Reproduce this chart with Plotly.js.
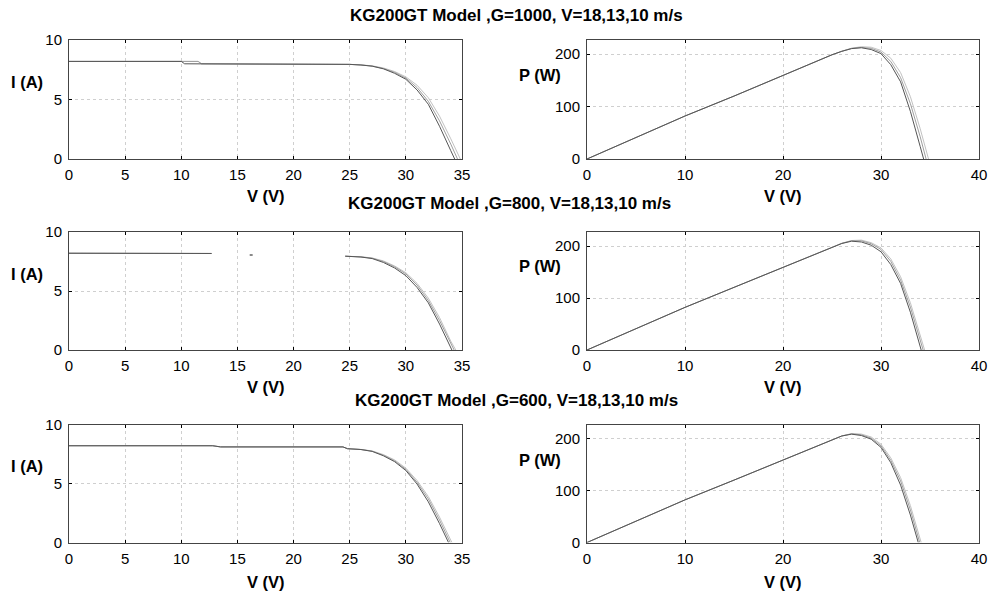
<!DOCTYPE html>
<html>
<head>
<meta charset="utf-8">
<script src="https://cdn.plot.ly/plotly-3.0.1.min.js"></script>
<style>html,body{margin:0;padding:0;background:#fff;}#chart{width:993px;height:595px;}</style>
</head>
<body>
<div id="chart"></div>
<script>
// ---------- Titles ----------
const rowTitles = [
  "KG200GT Model ,G=1000, V=18,13,10 m/s",
  "KG200GT Model ,G=800, V=18,13,10 m/s",
  "KG200GT Model ,G=600, V=18,13,10 m/s"
];
const windLabels = ["V=18 m/s", "V=13 m/s", "V=10 m/s"];

// ---------- Row 1 : G=1000, I-V ----------
const vI1a = [0, 5, 10, 10.3, 15, 20, 25, 26, 27, 28, 29, 30, 31, 32, 33, 34, 34.35];
const iI1a = [8.2, 8.2, 8.2, 8.0, 8.0, 8.0, 7.95, 7.9, 7.8, 7.58, 7.2, 6.7, 5.8, 4.6, 2.75, 0.7, 0];
const vI1b = [0, 5, 10, 11.5, 11.8, 15, 20, 25, 26, 27, 28, 29, 30, 31, 32, 33, 34, 34.6];
const iI1b = [8.2, 8.2, 8.2, 8.2, 8.0, 8.0, 8.0, 7.95, 7.9, 7.81, 7.6, 7.28, 6.8, 6.0, 4.85, 3.2, 1.25, 0];
const vI1c = [0, 5, 10, 11.5, 11.8, 15, 20, 25, 26, 27, 28, 29, 30, 31, 32, 33, 34, 34.85];
const iI1c = [8.2, 8.2, 8.2, 8.2, 8.0, 8.0, 8.0, 7.95, 7.91, 7.83, 7.65, 7.35, 6.9, 6.2, 5.15, 3.6, 1.7, 0];
// ---------- Row 1 : G=1000, P-V ----------
const vP1a = [0, 5, 10, 15, 20, 25, 26, 27, 28, 29, 30, 31, 32, 33, 34, 34.35];
const pP1a = [0, 41, 82, 120, 160, 198.8, 205.4, 210.6, 212.2, 208.8, 201, 179.8, 147.2, 90.8, 23.8, 0];
const vP1b = [0, 5, 10, 15, 20, 25, 26, 27, 28, 29, 30, 31, 32, 33, 34, 34.6];
const pP1b = [0, 41, 82, 120, 160, 198.8, 205.4, 210.9, 212.8, 211.1, 204, 186, 155.2, 105.6, 42.5, 0];
const vP1c = [0, 5, 10, 15, 20, 25, 26, 27, 28, 29, 30, 31, 32, 33, 34, 34.85];
const pP1c = [0, 41, 82, 120, 160, 198.8, 205.7, 211.4, 214.2, 213.2, 207, 192.2, 164.8, 118.8, 57.8, 0];

// ---------- Row 2 : G=800, I-V (gaps as in source) ----------
const vI2a = [0, 5, 10, 12.7, 12.8, 16.1, 16.35, 16.4, 24.6, 25, 26, 27, 28, 29, 30, 31, 32, 33, 34, 34.1];
const iI2a = [8.2, 8.2, 8.2, 8.18, null, 8.05, 8.05, null, 7.95, 7.94, 7.88, 7.75, 7.42, 6.95, 6.3, 5.3, 4.0, 2.2, 0.2, 0];
const vI2b = [0, 5, 10, 12.7, 12.8, 16.1, 16.35, 16.4, 24.6, 25, 26, 27, 28, 29, 30, 31, 32, 33, 34, 34.3];
const iI2b = [8.2, 8.2, 8.2, 8.18, null, 8.05, 8.05, null, 7.95, 7.94, 7.89, 7.78, 7.5, 7.05, 6.45, 5.5, 4.2, 2.5, 0.5, 0];
const vI2c = [0, 5, 10, 12.7, 12.8, 16.1, 16.35, 16.4, 24.6, 25, 26, 27, 28, 29, 30, 31, 32, 33, 34, 34.45];
const iI2c = [8.2, 8.2, 8.2, 8.18, null, 8.05, 8.05, null, 7.95, 7.94, 7.9, 7.8, 7.55, 7.12, 6.55, 5.65, 4.4, 2.75, 0.75, 0];
// ---------- Row 2 : G=800, P-V ----------
const vP2a = [0, 5, 10, 15, 20, 25, 26, 27, 28, 29, 30, 31, 32, 33, 34, 34.1];
const pP2a = [0, 41, 82, 120.5, 159, 198.5, 204.9, 209.3, 207.8, 201.6, 189, 164.3, 128, 72.6, 6.8, 0];
const vP2b = [0, 5, 10, 15, 20, 25, 26, 27, 28, 29, 30, 31, 32, 33, 34, 34.3];
const pP2b = [0, 41, 82, 120.5, 159, 198.5, 205.1, 210.1, 210, 204.5, 193.5, 170.5, 134.4, 82.5, 17, 0];
const vP2c = [0, 5, 10, 15, 20, 25, 26, 27, 28, 29, 30, 31, 32, 33, 34, 34.45];
const pP2c = [0, 41, 82, 120.5, 159, 198.5, 205.4, 210.6, 211.4, 206.5, 196.5, 175.2, 140.8, 90.8, 25.5, 0];

// ---------- Row 3 : G=600, I-V ----------
const vI3a = [0, 5, 10, 12.8, 13.5, 15, 20, 24.4, 24.8, 25, 26, 27, 28, 29, 30, 31, 32, 33, 33.8];
const iI3a = [8.2, 8.2, 8.2, 8.2, 8.1, 8.1, 8.1, 8.1, 7.95, 7.94, 7.88, 7.72, 7.35, 6.85, 6.1, 4.95, 3.45, 1.6, 0];
const vI3b = [0, 5, 10, 12.8, 13.5, 15, 20, 24.4, 24.8, 25, 26, 27, 28, 29, 30, 31, 32, 33, 33.95];
const iI3b = [8.2, 8.2, 8.2, 8.2, 8.1, 8.1, 8.1, 8.1, 7.95, 7.94, 7.88, 7.74, 7.4, 6.92, 6.2, 5.1, 3.7, 1.9, 0];
const vI3c = [0, 5, 10, 12.8, 13.5, 15, 20, 24.4, 24.8, 25, 26, 27, 28, 29, 30, 31, 32, 33, 34.1];
const iI3c = [8.2, 8.2, 8.2, 8.2, 8.1, 8.1, 8.1, 8.1, 7.95, 7.94, 7.89, 7.76, 7.45, 7.0, 6.3, 5.25, 3.9, 2.15, 0];
// ---------- Row 3 : G=600, P-V ----------
const vP3a = [0, 5, 10, 15, 20, 25, 26, 27, 28, 29, 30, 31, 32, 33, 33.8];
const pP3a = [0, 41, 82, 120, 159, 198.5, 204.9, 208.4, 205.8, 198.7, 183, 153.5, 110.4, 52.8, 0];
const vP3b = [0, 5, 10, 15, 20, 25, 26, 27, 28, 29, 30, 31, 32, 33, 33.95];
const pP3b = [0, 41, 82, 120, 159, 198.5, 204.9, 209, 207.2, 200.7, 186, 158.1, 118.4, 62.7, 0];
const vP3c = [0, 5, 10, 15, 20, 25, 26, 27, 28, 29, 30, 31, 32, 33, 34.1];
const pP3c = [0, 41, 82, 120, 159, 198.5, 205.1, 209.5, 208.6, 203, 189, 162.8, 124.8, 71, 0];

// ---------- Axis ticks ----------
const ivXTicks = [0, 5, 10, 15, 20, 25, 30, 35];
const ivYTicks = [0, 5, 10];
const pvXTicks = [0, 10, 20, 30, 40];
const pvYTicks = [0, 100, 200];

// ---------- build ----------
const colors = ["#c2c2c2", "#9e9e9e", "#555555"]; // drawn light first, dark on top
const FONT = 'Arial, "Liberation Sans", sans-serif';

const panels = [
  {ax: 1, sets: [[vI1c, iI1c], [vI1b, iI1b], [vI1a, iI1a]]},
  {ax: 2, sets: [[vP1c, pP1c], [vP1b, pP1b], [vP1a, pP1a]]},
  {ax: 3, sets: [[vI2c, iI2c], [vI2b, iI2b], [vI2a, iI2a]]},
  {ax: 4, sets: [[vP2c, pP2c], [vP2b, pP2b], [vP2a, pP2a]]},
  {ax: 5, sets: [[vI3c, iI3c], [vI3b, iI3b], [vI3a, iI3a]]},
  {ax: 6, sets: [[vP3c, pP3c], [vP3b, pP3b], [vP3a, pP3a]]}
];
const wl = [windLabels[2], windLabels[1], windLabels[0]];
const traces = [];
panels.forEach(p => {
  p.sets.forEach((s, k) => {
    traces.push({
      x: s[0], y: s[1], type: 'scatter', mode: 'lines', name: wl[k],
      connectgaps: false,
      line: {color: colors[k], width: 1},
      xaxis: 'x' + (p.ax === 1 ? '' : p.ax), yaxis: 'y' + (p.ax === 1 ? '' : p.ax),
      showlegend: false, hoverinfo: 'skip'
    });
  });
});

const H = 595, W = 993;
const leftDom = [69 / W, 462 / W];
const rightDom = [587 / W, 979 / W];
const rowDom = [
  [1 - 159 / H, 1 - 40 / H],
  [1 - 350 / H, 1 - 232 / H],
  [1 - 542.5 / H, 1 - 424.5 / H]
];

function xax(dom, range, ticks, anchor) {
  return {
    domain: dom, range: range, tickvals: ticks, ticktext: ticks.map(String),
    anchor: anchor, showline: true, mirror: 'ticks', linecolor: '#444', linewidth: 1,
    ticks: 'inside', ticklen: 3, tickcolor: '#000',
    showgrid: true, gridcolor: '#cfcfcf', griddash: 'dot', gridwidth: 1,
    zeroline: false, tickfont: {family: FONT, size: 15, color: '#000'},
    ticklabelstandoff: 2, fixedrange: true
  };
}
function yax(dom, range, ticks, anchor) {
  const a = xax(dom, range, ticks, anchor);
  a.ticklabelstandoff = 3;
  return a;
}

const layout = {
  width: W, height: H,
  margin: {l: 0, r: 0, t: 0, b: 0},
  paper_bgcolor: '#fff', plot_bgcolor: '#fff',
  showlegend: false,
  font: {family: FONT, color: '#000'},
  xaxis:  xax(leftDom,  [0, 35], ivXTicks, 'y'),
  yaxis:  yax(rowDom[0], [0, 10], ivYTicks, 'x'),
  xaxis2: xax(rightDom, [0, 40], pvXTicks, 'y2'),
  yaxis2: yax(rowDom[0], [0, 227], pvYTicks, 'x2'),
  xaxis3: xax(leftDom,  [0, 35], ivXTicks, 'y3'),
  yaxis3: yax(rowDom[1], [0, 10], ivYTicks, 'x3'),
  xaxis4: xax(rightDom, [0, 40], pvXTicks, 'y4'),
  yaxis4: yax(rowDom[1], [0, 227], pvYTicks, 'x4'),
  xaxis5: xax(leftDom,  [0, 35], ivXTicks, 'y5'),
  yaxis5: yax(rowDom[2], [0, 10], ivYTicks, 'x5'),
  xaxis6: xax(rightDom, [0, 40], pvXTicks, 'y6'),
  yaxis6: yax(rowDom[2], [0, 227], pvYTicks, 'x6'),
  annotations: []
};

function ann(text, xpx, ypx, size) {
  layout.annotations.push({
    text: '<b>' + text + '</b>', xref: 'paper', yref: 'paper',
    x: xpx / W, y: 1 - ypx / H, xanchor: 'center', yanchor: 'middle',
    showarrow: false, font: {family: FONT, size: size, color: '#000'}
  });
}
const titleX = [516, 509, 516], titleY = [15, 203, 400];
rowTitles.forEach((t, i) => ann(t, titleX[i], titleY[i], 17));
const iaY = [82, 274, 466], pwY = [75, 266, 460], vY = [196, 387, 582];
for (let i = 0; i < 3; i++) {
  ann('I (A)', 27, iaY[i], 16.5);
  ann('P (W)', 540, pwY[i], 16.5);
  ann('V (V)', 265.5, vY[i], 16.5);
  ann('V (V)', 783, vY[i], 16.5);
}

Plotly.newPlot('chart', traces, layout, {displayModeBar: false, staticPlot: true});
</script>
</body>
</html>
